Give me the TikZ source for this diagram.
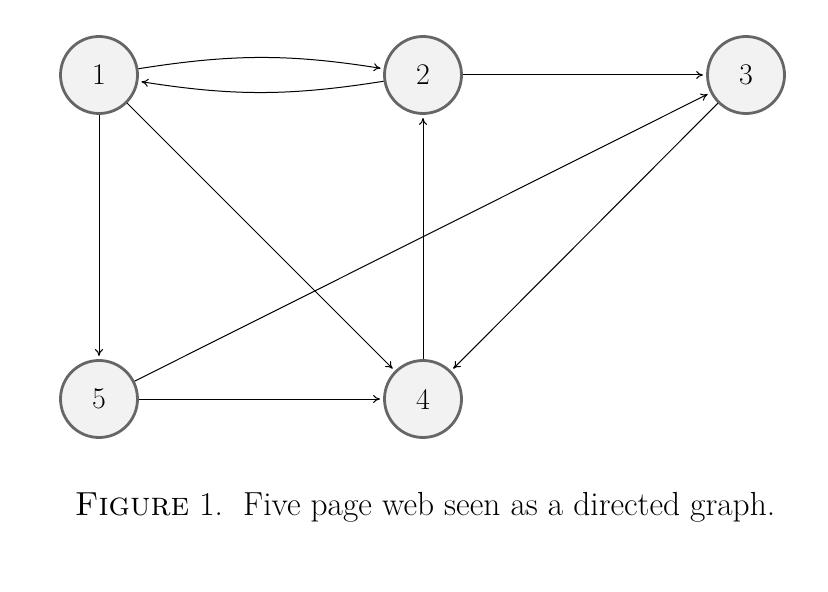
\documentclass[tikz,border=0pt]{standalone}
\usetikzlibrary{arrows.meta}
\definecolor{nodefill}{HTML}{F2F2F2}
\definecolor{nodeline}{HTML}{666666}
\begin{document}
\begin{tikzpicture}[x=0.5pt,y=-0.5pt,
  vtx/.style={circle,draw=nodeline,fill=nodefill,line width=1.4pt,minimum size=38.5pt,inner sep=0pt,font=\fontsize{15}{18}\selectfont},
  edge/.style={->,>={To[length=3.5pt,width=4pt]},line width=0.5pt,shorten >=1.5pt}]
\useasboundingbox (0,0) rectangle (828,592);
\node[vtx] (n1) at (99,75) {1};
\node[vtx] (n2) at (423,75) {2};
\node[vtx] (n3) at (746,75) {3};
\node[vtx] (n5) at (99,399) {5};
\node[vtx] (n4) at (423,399) {4};
\draw[edge] (n1) to[bend left=9] (n2);
\draw[edge] (n2) to[bend left=9] (n1);
\draw[edge] (n2) -- (n3);
\draw[edge] (n1) -- (n5);
\draw[edge] (n1) -- (n4);
\draw[edge] (n4) -- (n2);
\draw[edge] (n3) -- (n4);
\draw[edge] (n5) -- (n3);
\draw[edge] (n5) -- (n4);
\node[font=\fontsize{16.7}{20}\selectfont] (cap) at (425,507) {\textsc{Figure} 1.\ \ Five page web seen as a directed graph.};
\end{tikzpicture}
\end{document}
